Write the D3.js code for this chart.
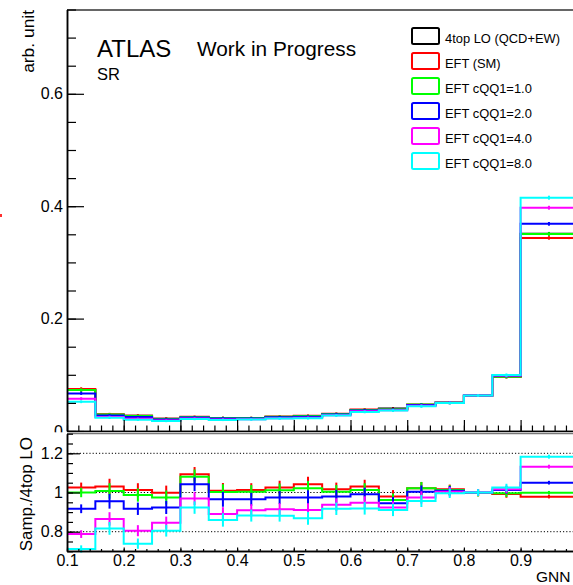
<!DOCTYPE html>
<html>
<head>
<meta charset="utf-8">
<script src="https://cdn.jsdelivr.net/npm/d3@7/dist/d3.min.js"></script>
<style>
  html, body { margin: 0; padding: 0; background: #fff; }
  svg { display: block; font-family: "Liberation Sans", Arial, Helvetica, sans-serif; }
</style>
</head>
<body>
<svg id="chart" width="573" height="585"></svg>
<script>
// GNN score bin edges (last bin is twice as wide)
const binEdges = [0.1, 0.15, 0.2, 0.25, 0.3, 0.35, 0.4, 0.45, 0.5, 0.55, 0.6, 0.65, 0.7, 0.75, 0.8, 0.85, 0.9, 1.0];

// normalised yields per bin
const lo4top   = [0.073, 0.029, 0.027, 0.022, 0.023, 0.023, 0.023, 0.025, 0.026, 0.030, 0.037, 0.040, 0.046, 0.050, 0.063, 0.097, 0.351];
const eftSM    = [0.07490, 0.02987, 0.02735, 0.02198, 0.02514, 0.02321, 0.02330, 0.02563, 0.02709, 0.03048, 0.03811, 0.03916, 0.04697, 0.05080, 0.06287, 0.09622, 0.3436];
const eftCQQ1  = [0.07300, 0.02923, 0.02665, 0.02145, 0.02486, 0.02307, 0.02309, 0.02528, 0.02655, 0.03012, 0.03748, 0.03848, 0.04697, 0.05065, 0.06281, 0.09661, 0.3506];
const eftCQQ2  = [0.06694, 0.02770, 0.02476, 0.02033, 0.02397, 0.02220, 0.02220, 0.02435, 0.02535, 0.02940, 0.03667, 0.03780, 0.04618, 0.05045, 0.06300, 0.09826, 0.3686];
const eftCQQ4  = [0.05752, 0.02509, 0.02174, 0.01861, 0.02229, 0.02047, 0.02091, 0.02285, 0.02369, 0.02814, 0.03508, 0.03696, 0.04485, 0.05020, 0.06300, 0.09855, 0.3973];
const eftCQQ8  = [0.05198, 0.02369, 0.01995, 0.01771, 0.02123, 0.01978, 0.02029, 0.02205, 0.02257, 0.02751, 0.03400, 0.03644, 0.04402, 0.04980, 0.06300, 0.09943, 0.4152];

// relative statistical uncertainty per bin
const relErr = [0.02, 0.035, 0.03, 0.032, 0.03, 0.035, 0.03, 0.03, 0.033, 0.03, 0.03, 0.03, 0.028, 0.02, 0.013, 0.015, 0.005];

const seriesNames  = ["4top LO (QCD+EW)", "EFT (SM)", "EFT cQQ1=1.0", "EFT cQQ1=2.0", "EFT cQQ1=4.0", "EFT cQQ1=8.0"];
const seriesValues = [lo4top, eftSM, eftCQQ1, eftCQQ2, eftCQQ4, eftCQQ8];
const seriesColors = ["#000000", "#ff0000", "#00ff00", "#0000ff", "#ff00ff", "#00ffff"];

const upperTicks = [0, 0.2, 0.4, 0.6];
const ratioTicks = [0.8, 1.0, 1.2];
const ratioTickLabels = ["0.8", "1", "1.2"];
const xTicks = [0.1, 0.2, 0.3, 0.4, 0.5, 0.6, 0.7, 0.8, 0.9];

const svg = d3.select("#chart");

const x  = d3.scaleLinear().domain([0.1, 1.0]).range([67, 577.3]);
const yU = d3.scaleLinear().domain([0, 0.75]).range([431, 9.5]);
const yR = d3.scaleLinear().domain([0.7, 1.3]).range([551.3, 433.7]);

const stepLine = (ys) => d3.line()
  .x(d => x(d[0]))
  .y(d => ys(d[1]))
  .curve(d3.curveStepAfter);

function histPoints(vals) {
  const pts = vals.map((v, i) => [binEdges[i], v]);
  pts.push([binEdges[binEdges.length - 1], vals[vals.length - 1]]);
  return pts;
}

// ---------- upper pad ----------
const upper = svg.append("g");

seriesValues.forEach((vals, s) => {
  upper.append("path")
    .attr("d", stepLine(yU)(histPoints(vals)))
    .attr("fill", "none")
    .attr("stroke", seriesColors[s])
    .attr("stroke-width", 2);
  upper.selectAll(null).data(vals).enter().append("line")
    .attr("x1", (d, i) => x((binEdges[i] + binEdges[i + 1]) / 2))
    .attr("x2", (d, i) => x((binEdges[i] + binEdges[i + 1]) / 2))
    .attr("y1", (d, i) => yU(d * (1 - relErr[i])) + 0.8)
    .attr("y2", (d, i) => yU(d * (1 + relErr[i])) - 0.8)
    .attr("stroke", seriesColors[s])
    .attr("stroke-width", 2);
});

// frame top
upper.append("line").attr("x1", 67).attr("x2", 580).attr("y1", 10).attr("y2", 10)
  .attr("stroke", "#666").attr("stroke-width", 2);

// upper y axis
upper.append("g").attr("transform", "translate(67,0)")
  .call(d3.axisLeft(yU).tickValues(upperTicks).tickSize(-17).tickSizeOuter(0).tickPadding(4)
        .tickFormat(d => d === 0 ? "0" : d3.format(".1f")(d)));
upper.append("g").attr("transform", "translate(67,0)")
  .call(d3.axisLeft(yU).tickValues(d3.range(0, 0.751, 0.05)).tickSize(-9).tickSizeOuter(0).tickFormat(""));

// upper x axis (ticks only)
upper.append("g").attr("transform", "translate(0,431)")
  .call(d3.axisBottom(x).tickValues(d3.range(0.1, 1.001, 0.1)).tickSize(-11).tickSizeOuter(0).tickFormat(""));
upper.append("g").attr("transform", "translate(0,431)")
  .call(d3.axisBottom(x).tickValues(d3.range(0.1, 1.001, 0.02)).tickSize(-5.5).tickSizeOuter(0).tickFormat(""));

// ---------- ratio pad ----------
const lower = svg.append("g");
lower.append("rect").attr("x", 0).attr("y", 432.3).attr("width", 573).attr("height", 153).attr("fill", "#fff");

// reference lines
ratioTicks.forEach(r => {
  lower.append("line")
    .attr("x1", x(0.1)).attr("x2", x(1.0))
    .attr("y1", yR(r)).attr("y2", yR(r))
    .attr("stroke", "#000").attr("stroke-width", 1).attr("stroke-dasharray", "1.2,2");
});

seriesValues.slice(1).forEach((vals, k) => {
  const s = k + 1;
  const ratio = vals.map((v, i) => v / lo4top[i]);
  lower.append("path")
    .attr("d", stepLine(yR)(histPoints(ratio)))
    .attr("fill", "none")
    .attr("stroke", seriesColors[s])
    .attr("stroke-width", 2);
  lower.selectAll(null).data(ratio).enter().append("line")
    .attr("x1", (d, i) => x((binEdges[i] + binEdges[i + 1]) / 2))
    .attr("x2", (d, i) => x((binEdges[i] + binEdges[i + 1]) / 2))
    .attr("y1", (d, i) => yR(d * (1 - relErr[i])) + 0.8)
    .attr("y2", (d, i) => yR(d * (1 + relErr[i])) - 0.8)
    .attr("stroke", seriesColors[s])
    .attr("stroke-width", 2);
});

lower.append("line").attr("x1", 67).attr("x2", 580).attr("y1", 433.5).attr("y2", 433.5)
  .attr("stroke", "#777").attr("stroke-width", 1.5);

lower.append("g").attr("transform", "translate(67,0)")
  .call(d3.axisLeft(yR).tickValues(ratioTicks).tickSize(-13).tickSizeOuter(0).tickPadding(4)
        .tickFormat((d, i) => ratioTickLabels[i]));
lower.append("g").attr("transform", "translate(67,0)")
  .call(d3.axisLeft(yR).tickValues(d3.range(0.7, 1.301, 0.05)).tickSize(-6).tickSizeOuter(0).tickFormat(""));

lower.append("g").attr("transform", "translate(0,551)")
  .call(d3.axisBottom(x).tickValues(xTicks).tickSize(-3.5).tickSizeOuter(0).tickPadding(4)
        .tickFormat(d3.format(".1f")));
lower.append("g").attr("transform", "translate(0,551)")
  .call(d3.axisBottom(x).tickValues(d3.range(0.1, 1.001, 0.02)).tickSize(-2).tickSizeOuter(0).tickFormat(""));

// axis styling
svg.selectAll(".domain").attr("stroke", "#000").attr("stroke-width", 1.5);
svg.selectAll(".tick line").attr("stroke", "#000").attr("stroke-width", 1.2);
svg.selectAll(".tick text").attr("font-size", 16).attr("fill", "#000")
  .attr("font-family", "'Liberation Sans', Arial, sans-serif");

// ---------- titles ----------
svg.append("text").attr("transform", "translate(34,10) rotate(-90)")
  .attr("text-anchor", "end").attr("font-size", 17.4).text("arb. unit");
svg.append("text").attr("transform", "translate(32,437) rotate(-90)")
  .attr("text-anchor", "end").attr("font-size", 17).text("Samp./4top LO");
svg.append("text").attr("x", 536).attr("y", 582).attr("font-size", 15.5).text("GNN");

svg.append("text").attr("x", 97).attr("y", 57).attr("font-size", 24).text("ATLAS");
svg.append("text").attr("x", 197).attr("y", 56).attr("font-size", 20.8).text("Work in Progress");
svg.append("text").attr("x", 97).attr("y", 80).attr("font-size", 16.5).text("SR");

// ---------- legend ----------
const legend = svg.append("g");
seriesNames.forEach((name, i) => {
  const top = 28 + i * 25;
  legend.append("rect")
    .attr("x", 412).attr("y", top).attr("width", 27).attr("height", 16)
    .attr("rx", 1.5).attr("fill", "#fff")
    .attr("stroke", seriesColors[i]).attr("stroke-width", 2);
  legend.append("text").attr("x", 445).attr("y", top + 14.5)
    .attr("font-size", 12.9).text(name);
});

// small stray marker at the left edge
svg.append("rect").attr("x", 0).attr("y", 214).attr("width", 2).attr("height", 3).attr("fill", "#ff3030");
</script>
</body>
</html>
